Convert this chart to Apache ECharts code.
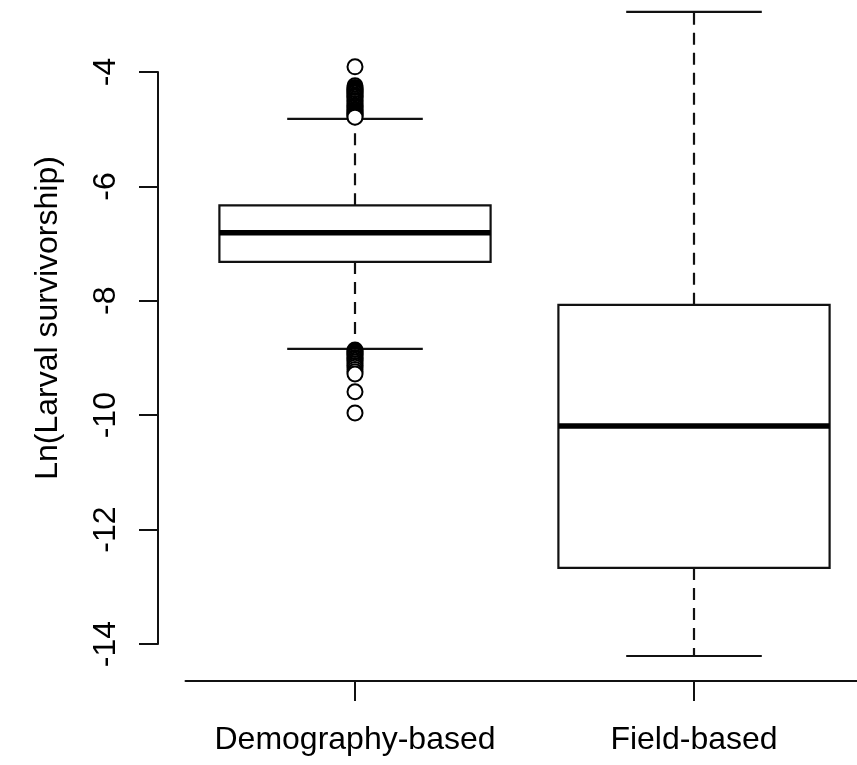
<!DOCTYPE html>
<html>
<head>
<meta charset="utf-8">
<script src="https://cdn.jsdelivr.net/npm/echarts@6/dist/echarts.min.js"></script>
<style>
html,body{margin:0;padding:0;background:#fff;}
#chart{width:857px;height:765px;}
</style>
</head>
<body>
<div id="chart"></div>
<script>
const categories = ['Demography-based', 'Field-based'];
const lowerWhisker = [-8.84, -14.21];
const q1Values = [-7.32, -12.67];
const medianValues = [-6.81, -10.19];
const q3Values = [-6.33, -8.07];
const upperWhisker = [-4.82, -2.95];
const outliersDemography = [-3.91, -4.24, -4.27, -4.29, -4.31, -4.33, -4.35, -4.37, -4.40, -4.42, -4.44, -4.47, -4.50, -4.52, -4.55,
  -4.58, -4.60, -4.62, -4.65, -4.67, -4.69, -4.71, -4.73, -4.75, -4.77, -4.79,
  -8.86, -8.88, -8.90, -8.92, -8.94, -8.96, -8.99, -9.01, -9.04, -9.07, -9.10, -9.13, -9.16, -9.20, -9.24, -9.28, -9.59, -9.96];
const outliersField = [];
const yTickValues = [-14, -12, -10, -8, -6, -4];
const yTitle = 'Ln(Larval survivorship)';

const FONT = "'Liberation Sans', Arial, sans-serif";
const INK = '#111';

const boxData = categories.map((c, i) => [i, lowerWhisker[i], q1Values[i], medianValues[i], q3Values[i], upperWhisker[i]]);
const outlierData = [];
outliersDemography.forEach(v => outlierData.push([categories[0], v]));
outliersField.forEach(v => outlierData.push([categories[1], v]));

const chart = echarts.init(document.getElementById('chart'), null, {renderer: 'canvas'});
chart.setOption({
  animation: false,
  backgroundColor: '#fff',
  grid: [
    {left: 185.5, top: 0, width: 678, height: 681, outerBoundsMode: 'none', containLabel: false},
    {left: 158, top: 72, width: 10, height: 572, outerBoundsMode: 'none', containLabel: false}
  ],
  graphic: [
    {
      type: 'text', x: 48, y: 318, rotation: Math.PI / 2,
      style: {text: yTitle, fill: '#000', fontSize: 32, fontFamily: FONT, align: 'center', verticalAlign: 'middle'}
    }
  ],
  xAxis: [
    {
      type: 'category', gridIndex: 0, data: categories, boundaryGap: true,
      axisLine: {show: true, lineStyle: {color: INK, width: 2}},
      axisTick: {show: true, alignWithLabel: true, length: 20, lineStyle: {color: INK, width: 2}},
      axisLabel: {show: true, color: '#000', fontSize: 32, fontFamily: FONT, margin: 43, interval: 0},
      splitLine: {show: false}
    },
    {type: 'value', gridIndex: 1, show: false}
  ],
  yAxis: [
    {
      type: 'value', gridIndex: 0, min: -14.647, max: -2.741,
      axisLine: {show: false}, axisTick: {show: false}, axisLabel: {show: false}, splitLine: {show: false}
    },
    {
      type: 'value', gridIndex: 1, position: 'left',
      min: yTickValues[0], max: yTickValues[yTickValues.length - 1], interval: 2,
      axisLine: {show: true, lineStyle: {color: INK, width: 2}},
      axisTick: {show: true, length: 19, lineStyle: {color: INK, width: 2}},
      axisLabel: {show: true, rotate: 90, color: '#000', fontSize: 32, fontFamily: FONT, margin: 36},
      splitLine: {show: false}
    }
  ],
  series: [
    {
      type: 'custom',
      xAxisIndex: 0, yAxisIndex: 0,
      data: boxData,
      encode: {x: 0, y: [1, 2, 3, 4, 5]},
      renderItem: function (params, api) {
        const idx = api.value(0);
        const low = api.coord([idx, api.value(1)]);
        const q1 = api.coord([idx, api.value(2)]);
        const med = api.coord([idx, api.value(3)]);
        const q3 = api.coord([idx, api.value(4)]);
        const high = api.coord([idx, api.value(5)]);
        const band = api.size([1, 0])[0];
        const bw = band * 0.8;
        const cw = bw * 0.5;
        const x = q1[0];
        const lineStyle = {stroke: INK, lineWidth: 2.2, fill: null};
        return {
          type: 'group',
          children: [
            {type: 'line', shape: {x1: x, y1: q3[1], x2: x, y2: high[1]}, style: Object.assign({}, lineStyle, {lineDash: [12, 8]})},
            {type: 'line', shape: {x1: x, y1: q1[1], x2: x, y2: low[1]}, style: Object.assign({}, lineStyle, {lineDash: [12, 8]})},
            {type: 'line', shape: {x1: x - cw / 2, y1: high[1], x2: x + cw / 2, y2: high[1]}, style: lineStyle},
            {type: 'line', shape: {x1: x - cw / 2, y1: low[1], x2: x + cw / 2, y2: low[1]}, style: lineStyle},
            {type: 'rect', shape: {x: x - bw / 2, y: q3[1], width: bw, height: q1[1] - q3[1]}, style: {stroke: INK, lineWidth: 2.2, fill: '#fff'}},
            {type: 'line', shape: {x1: x - bw / 2, y1: med[1], x2: x + bw / 2, y2: med[1]}, style: {stroke: '#000', lineWidth: 5.5}}
          ]
        };
      },
      z: 2
    },
    {
      type: 'scatter',
      xAxisIndex: 0, yAxisIndex: 0,
      data: outlierData,
      symbol: 'emptyCircle',
      symbolSize: 15,
      itemStyle: {color: '#000', borderColor: '#000', borderWidth: 2.2, opacity: 1},
      z: 3
    }
  ]
});
</script>
</body>
</html>
